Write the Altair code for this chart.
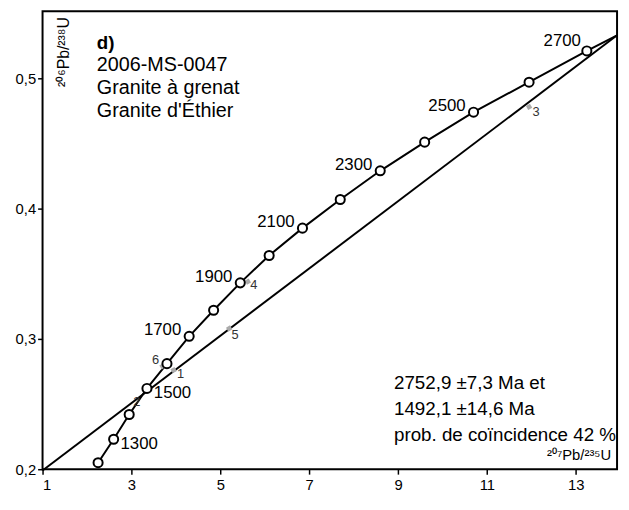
import altair as alt
import pandas as pd

# concordia points
conc_x = [2.25, 2.6, 2.95, 3.35, 3.8, 4.3, 4.85, 5.45, 6.1, 6.85, 7.7, 8.6, 9.6, 10.7, 11.95, 13.25]
conc_y = [0.205, 0.223, 0.242, 0.262, 0.281, 0.302, 0.322, 0.343, 0.364, 0.385, 0.407, 0.429, 0.451, 0.474, 0.497, 0.521]
conc_end = (13.93, 0.533)
age_labels = {1300: 1, 1500: 3, 1700: 5, 1900: 7, 2100: 9, 2300: 11, 2500: 13, 2700: 15}

# discordia line
disc_x = [1.0, 13.93]
disc_y = [0.199, 0.533]

# analyses
pt_id = ["1", "2", "3", "4", "5", "6"]
pt_x = [3.95, 3.3, 11.95, 5.62, 5.2, 3.7]
pt_y = [0.276, 0.262, 0.478, 0.344, 0.308, 0.279]

font = "Liberation Sans"
xs = alt.Scale(domain=[1, 13.93], nice=False)
ys = alt.Scale(domain=[0.2, 0.5515], nice=False)

conc = pd.DataFrame({"x": conc_x + [conc_end[0]], "y": conc_y + [conc_end[1]]})
conc["o"] = range(len(conc))
circ = pd.DataFrame({"x": conc_x, "y": conc_y})
ages = pd.DataFrame({"x": [conc_x[i] for i in age_labels.values()],
                     "y": [conc_y[i] for i in age_labels.values()],
                     "t": [str(a) for a in age_labels]})
disc = pd.DataFrame({"x": disc_x, "y": disc_y})
pts = pd.DataFrame({"x": pt_x, "y": pt_y, "t": pt_id})

X = alt.X("x:Q", scale=xs, axis=alt.Axis(values=[1, 3, 5, 7, 9, 11, 13], title=None, grid=False,
          labelFont=font, labelFontSize=15, labelColor="black", tickColor="black", domain=False, labelPadding=4))
Y = alt.Y("y:Q", scale=ys, axis=alt.Axis(values=[0.2, 0.3, 0.4, 0.5], title=None, grid=False,
          labelFont=font, labelFontSize=15, labelColor="black", tickColor="black", domain=False,
          labelExpr="replace(format(datum.value, '.1f'), '.', ',')"))

base_line = alt.Chart(conc).mark_line(color="black", strokeWidth=2).encode(x=X, y=Y, order="o:Q")
disc_line = alt.Chart(disc).mark_line(color="black", strokeWidth=2).encode(x="x:Q", y="y:Q")
gray = alt.Chart(pts).mark_square(color="#aaaaaa", size=22, angle=330, opacity=1).encode(x="x:Q", y="y:Q")
circles = alt.Chart(circ).mark_point(shape="circle", size=85, filled=True, fill="white",
                                     stroke="black", strokeWidth=2, opacity=1).encode(x="x:Q", y="y:Q")

right_ages = ages[ages.t.isin(["1300", "1500"])]
left_ages = ages[~ages.t.isin(["1300", "1500", "2700"])]
top_age = ages[ages.t == "2700"]
lab_r = alt.Chart(right_ages).mark_text(align="left", dx=7, dy=5, font=font, fontSize=17, color="black").encode(x="x:Q", y="y:Q", text="t:N")
lab_l = alt.Chart(left_ages).mark_text(align="right", dx=-8, dy=-6, font=font, fontSize=17, color="black").encode(x="x:Q", y="y:Q", text="t:N")
lab_t = alt.Chart(top_age).mark_text(align="right", dx=-6, dy=-10, font=font, fontSize=17, color="black").encode(x="x:Q", y="y:Q", text="t:N")

pt_dx = [7, -8, 7, 6, 6, -7]
pt_dy = [4, 14, 5, 4, 7, -6]
pt_labels = [
    alt.Chart(pts.iloc[[i]]).mark_text(font=font, fontSize=13, color="#333333", dx=pt_dx[i], dy=pt_dy[i])
    .encode(x="x:Q", y="y:Q", text="t:N") for i in range(len(pt_id))]

frame = alt.Chart(pd.DataFrame({"a": [0]})).mark_rect(fill=None, stroke="black", strokeWidth=2).encode(
    x=alt.value(0), x2=alt.value(582), y=alt.value(0), y2=alt.value(464))

def txt(s, px, py, size=20, bold=False, align="left"):
    return alt.Chart(pd.DataFrame({"t": [s]})).mark_text(
        align=align, baseline="middle", font=font, fontSize=size, color="black",
        fontWeight="bold" if bold else "normal").encode(x=alt.value(px), y=alt.value(py), text="t:N")

texts = [
    txt("d)", 55, 32, 19, True),
    txt("2006-MS-0047", 55, 55),
    txt("Granite à grenat", 55, 78),
    txt("Granite d'Éthier", 55, 101),
    txt("2752,9 ±7,3 Ma et", 356, 377, 19),
    txt("1492,1 ±14,6 Ma", 356, 403, 19),
    txt("prob. de coïncidence 42 %", 356, 429, 19),
    txt("²⁰⁷Pb/²³⁵U", 576, 450, 15, align="right"),
]
ytitle = alt.Chart(pd.DataFrame({"t": ["²⁰⁶Pb/²³⁸U"]})).mark_text(
    angle=270, align="right", baseline="middle", font=font, fontSize=16, color="black").encode(
    x=alt.value(22), y=alt.value(6), text="t:N")

chart = alt.layer(base_line, disc_line, gray, circles, lab_r, lab_l, lab_t, *pt_labels, frame, ytitle, *texts).properties(
    width=582, height=464,
    autosize=alt.AutoSizeParams(type="none"),
    padding={"left": 35, "top": 0, "right": 4, "bottom": 30},
).configure_view(stroke=None).configure_axis(tickSize=5, tickWidth=1.5)

chart.save("out.html", embed_options={"renderer": "svg", "actions": False})
